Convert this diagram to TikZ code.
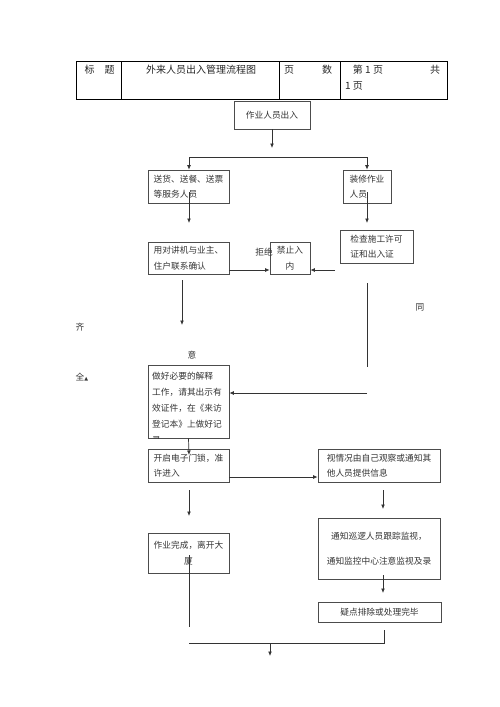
\documentclass[tikz,border=0pt]{standalone}
\usepackage{fontspec}
\setmainfont{Noto Sans CJK SC}
\newfontfamily\symfont{DejaVu Sans}
\usetikzlibrary{arrows.meta}

\begin{document}
\begin{tikzpicture}[x=1pt, y=-1pt,
    box/.style={draw=black!70, line width=0.7pt, inner sep=0pt, align=left,
        font=\fontsize{8.7}{15.5}\selectfont, text=black!80},
    arr/.style={draw=black!80, line width=0.7pt, -{Latex[length=4.5pt,width=3.8pt]}},
    line/.style={draw=black!80, line width=0.7pt},
    note/.style={inner sep=0pt, font=\fontsize{8.7}{15.5}\selectfont, text=black!80},
    head/.style={inner sep=0pt, font=\fontsize{10}{16}\selectfont, text=black!85}]
    \useasboundingbox (0,0) rectangle (500,707);

    \draw[line width=1pt] (76,61) rectangle (447,99);
    \foreach \x in {121, 279, 340} {
        \draw[line width=1pt] (\x,61) -- (\x,99);
    }
    \node[head] (key) at (99.5,70) {标\hspace{10pt}题};
    \node[head] (title) at (201,70) {外来人员出入管理流程图};
    \node[head] (pages) at (308,70) {页\hspace{28pt}数};
    \node[head] (page-a) at (368,70) {第 1 页};
    \node[head] (page-b) at (435,70) {共};
    \node[head, anchor=west] (page-c) at (345,86) {1 页};

    \node[box, minimum width=76, minimum height=28, align=center] (start) at (272,115) {作业人员出入};
    \node[box, minimum width=81, minimum height=33] (fuwu) at (188.5,186.5) {送货、送餐、送票\\等服务人员};
    \node[box, minimum width=48, minimum height=33] (zhuangxiu) at (367,186.5) {装修作业\\人员};
    \node[box, minimum width=81, minimum height=32] (duijiang) at (188.5,258) {用对讲机与业主、\\住户联系确认};
    \node[box, minimum width=40, minimum height=32, align=center] (jinzhi) at (290,258) {禁止入\\内};
    \node[box, minimum width=73, minimum height=33] (jiancha) at (376.5,246.5) {检查施工许可\\证和出入证};
    \node[box, minimum width=81, minimum height=73] (jieshi) at (188.5,401.5) {};
    \begin{scope}
        \clip (jieshi.north west) rectangle (jieshi.south east);
        \node[note, align=left, anchor=north west, font=\fontsize{8.7}{16}\selectfont] (jieshi-text) at (152,371.5)
            {做好必要的解释\\工作，请其出示有\\效证件，在《来访\\登记本》上做好记\\录};
    \end{scope}
    \node[box, minimum width=81, minimum height=33] (kaiqi) at (188.5,465.5) {开启电子门锁，准\\许进入};
    \node[box, minimum width=122, minimum height=33] (shiqing) at (379,465.5) {视情况由自己观察或通知其\\他人员提供信息};
    \node[box, minimum width=81, minimum height=40, align=center] (wancheng) at (188.5,553) {作业完成，离开大\\厦};
    \node[box, minimum width=122, minimum height=61, align=center] (tongzhi) at (379,548.5)
        {通知巡逻人员跟踪监视，\\[10pt]通知监控中心注意监视及录};
    \node[box, minimum width=123, minimum height=20, align=center] (yidian) at (379.5,612) {疑点排除或处理完毕};

    \node[note] (jujue) at (264,252) {拒绝};
    \node[note] (tong) at (420,307) {同};
    \node[note] (qi) at (80,327) {齐};
    \node[note] (yi) at (192,355) {意};
    \node[note] (quan) at (82,377) {全{\symfont\fontsize{5}{5}\selectfont ▲}};

    \foreach \n/\x/\y in {split/272/148, fork-l/189/157, fork-r/367/157,
        fuwu-out/189/192, fuwu-end/189/223, zx-out/367/192, zx-end/367/223,
        jc-in/335/270, dj-out/182/280, dj-end/182/325, jc-out/367/283, jc-end/367/367,
        js-in/367/393, js-end/189/455, kq-out/189/490, kq-end/189/516,
        sq-out/383/490, sq-end/383/509, wc-out/189/555, wc-end/189/627,
        tz-out/383/575, tz-end/383/593, yd-out/384/630, merge-r/384/643,
        merge-l/189/643, end-in/270/643, end/270/656} {
        \coordinate (\n) at (\x,\y);
    }

    \draw[arr] (start.south) -- (split);
    \draw[line] (fork-l) -- (fork-r);
    \draw[arr] (fork-l) -- (fork-l |- fuwu.north);
    \draw[arr] (fork-r) -- (fork-r |- zhuangxiu.north);
    \foreach \a/\b in {fuwu-out/fuwu-end, zx-out/zx-end, dj-out/dj-end, kq-out/kq-end,
        sq-out/sq-end, tz-out/tz-end, end-in/end} {
        \draw[arr] (\a) -- (\b);
    }
    \draw[arr] ([yshift=-12pt]duijiang.east) -- ([yshift=-12pt]jinzhi.west);
    \draw[arr] (jc-in) -- ([yshift=-12pt]jinzhi.east);
    \draw[line] (jc-out) -- (jc-end);
    \draw[arr] (js-in) -- ([yshift=8.5pt]jieshi.east);
    \draw[arr] (jieshi.south) -- (js-end);
    \draw[arr] ([yshift=-11.5pt]kaiqi.east) -- ([yshift=-11.5pt]shiqing.west);
    \draw[line] (wc-out) -- (wc-end);
    \draw[line] (yd-out) -- (merge-r) -- (merge-l);
\end{tikzpicture}
\end{document}
